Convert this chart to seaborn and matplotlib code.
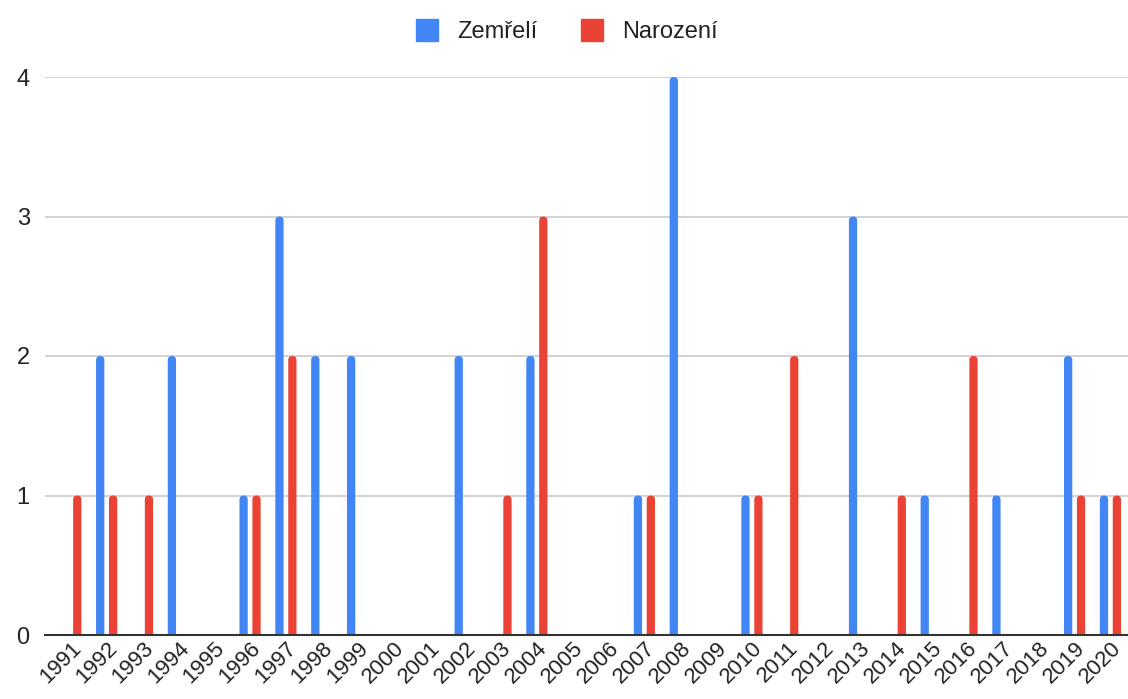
import pandas as pd
import numpy as np
import matplotlib.pyplot as plt
import seaborn as sns
from matplotlib.lines import Line2D
from matplotlib.patches import FancyBboxPatch

# data
years = [str(y) for y in range(1991, 2021)]
zemreli = [0, 2, 0, 2, 0, 1, 3, 2, 2, 0, 0, 2, 0, 2, 0,
           0, 1, 4, 0, 1, 0, 0, 3, 0, 1, 0, 1, 0, 2, 1]
narozeni = [1, 1, 1, 0, 0, 1, 2, 0, 0, 0, 0, 0, 1, 3, 0,
            0, 1, 0, 0, 1, 2, 0, 0, 1, 0, 2, 0, 0, 1, 1]
series = ["Zemřelí", "Narození"]
colors = ["#4285F4", "#EA4335"]

df = pd.DataFrame({"Rok": years * 2,
                   "Počet": zemreli + narozeni,
                   "Série": [series[0]] * len(years) + [series[1]] * len(years)})

sns.set_style("white")
plt.rcParams["font.family"] = ["Liberation Sans", "DejaVu Sans"]

fig = plt.figure(figsize=(11.28, 6.99), dpi=100)
ax = fig.add_axes([45 / 1128, (699 - 635) / 699, 1 - 45 / 1128, (635 - 77) / 699])

sns.barplot(data=df, x="Rok", y="Počet", hue="Série", palette=colors,
            saturation=1, width=0.72, gap=0.36, linewidth=0,
            ax=ax, legend=False, zorder=3)

ax.set_xlim(-0.72, 29.49)
ax.set_ylim(0, 4)

# round the bar tops like the original chart
px_x = 1083 / 30.21
px_y = 558 / 4
for p in list(ax.patches):
    h = p.get_height()
    if h <= 0:
        p.remove()
        continue
    x, w = p.get_x(), p.get_width()
    r = w / 2
    ext = r * px_x / px_y
    fb = FancyBboxPatch((x, -ext), w, h + ext,
                        boxstyle=f"round,pad=0,rounding_size={r}",
                        mutation_aspect=px_x / px_y,
                        facecolor=p.get_facecolor(), edgecolor="none",
                        zorder=3)
    ax.add_patch(fb)
    p.remove()

ax.set_yticks([0, 1, 2, 3, 4])
ax.yaxis.grid(True, color="#cccccc", linewidth=1.2, zorder=0)
ax.set_xlabel("")
ax.set_ylabel("")
for s in ["top", "right", "left"]:
    ax.spines[s].set_visible(False)
ax.spines["bottom"].set_color("#333333")
ax.spines["bottom"].set_linewidth(1.5)
ax.spines["bottom"].set_zorder(4)

ax.tick_params(axis="both", length=0, labelsize=16, colors="#222222")
ax.tick_params(axis="y", pad=11, labelsize=17)
ax.tick_params(axis="x", pad=2)
plt.setp(ax.get_xticklabels(), rotation=45, ha="right", rotation_mode="anchor")

handles = [Line2D([], [], marker="s", linestyle="", markersize=16,
                  markerfacecolor=c, markeredgecolor=c) for c in colors]
fig.legend(handles, series, loc="upper center", bbox_to_anchor=(0.497, 1.0),
           ncol=2, frameon=False, fontsize=17, handletextpad=0.3,
           columnspacing=1.3, labelcolor="#222222")

fig.savefig("out.png", dpi=100)
